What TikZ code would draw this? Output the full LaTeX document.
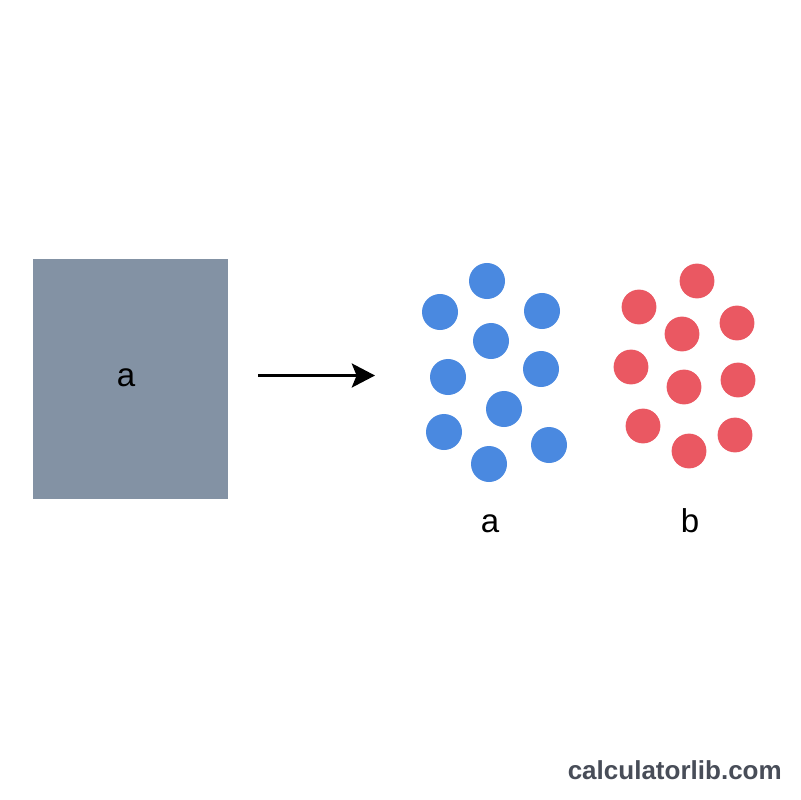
\documentclass[tikz,border=0pt]{standalone}
\usepackage{fontspec}
\setmainfont{Liberation Sans}
\usetikzlibrary{arrows.meta}

\definecolor{slab}{RGB}{131,146,164}
\definecolor{blueball}{RGB}{74,137,224}
\definecolor{redball}{RGB}{234,88,98}
\definecolor{mark}{RGB}{72,77,88}

\tikzset{
  blueatom/.style={circle, fill=blueball, minimum size=0.9cm, inner sep=0pt},
  redatom/.style={circle, fill=redball, minimum size=0.87cm, inner sep=0pt},
  tag/.style={font=\fontsize{23.5}{28}\selectfont, text=black, inner sep=0pt}
}

\begin{document}
\begin{tikzpicture}[x=0.025cm, y=-0.025cm]
	\useasboundingbox (0,0) rectangle (800,800);
	
	\node[fill=slab, minimum width=4.875cm, minimum height=6cm, inner sep=0pt] (box) at (130.5,379) {};
	\node[tag, anchor=base] (boxa) at (126,386) {a};
	
	\coordinate (arrs) at (258,375.5);
	\coordinate (arre) at (375,375.5);
	\draw[line width=2.2pt, -{Stealth[length=0.58cm, width=0.6cm, inset=0.12cm]}] (arrs) -- (arre);
	
	\foreach \i/\px/\py in {1/487/281, 2/440/312, 3/542/311, 4/491/341, 5/448/377,
	                        6/541/369, 7/504/409, 8/444/432, 9/549/445, 10/489/464}
	  \node[blueatom] (b\i) at (\px,\py) {};
	
	\foreach \i/\px/\py in {1/697/281, 2/639/307, 3/737/323, 4/682/334, 5/631/367,
	                        6/738/380, 7/684/387, 8/643/426, 9/735/435, 10/689/451}
	  \node[redatom] (r\i) at (\px,\py) {};
	
	\node[tag, anchor=base] (taga) at (490,532) {a};
	\node[tag, anchor=base] (tagb) at (690,532) {b};
	
	\node[anchor=base east, inner sep=0pt, text=mark, font=\fontsize{18.5}{22}\selectfont\bfseries] (site) at (782,779) {calculatorlib.com};
\end{tikzpicture}
\end{document}
